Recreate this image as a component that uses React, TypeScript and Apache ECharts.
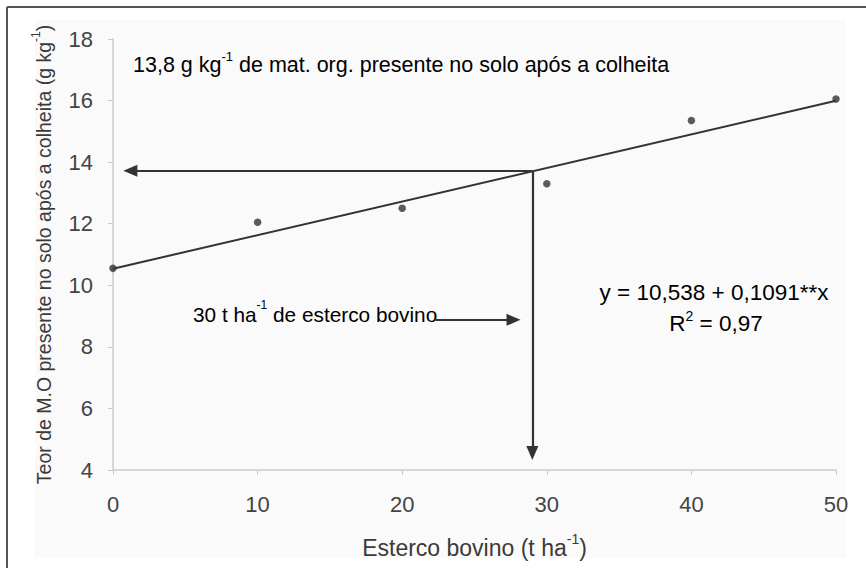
import React, { useEffect, useRef } from "react";
import * as echarts from "echarts";

const xTicks = [0, 10, 20, 30, 40, 50];
const doses = [0, 10, 20, 30, 40, 50];
const organicMatter = [10.55, 12.05, 12.5, 13.3, 15.35, 16.05];
const fitLine: [number, number][] = [[0, 10.538], [50, 15.993]];
const arrowHoriz: [number, number][] = [[29, 13.72], [1.2, 13.72]];
const arrowVert: [number, number][] = [[29, 13.72], [29, 4.55]];
const arrowLabel: [number, number][] = [[22.3, 8.88], [27.7, 8.88]];

const FONT = "Liberation Sans, Arial, sans-serif";
const TXT = "#3a3a3a";
const INK = "#333333";

const mkRich = (size: number, lh: number) => ({
  n: { fontSize: size, fontFamily: FONT, color: TXT, lineHeight: lh, verticalAlign: "bottom" as const },
  s: { fontSize: Math.round(size * 0.6), fontFamily: FONT, color: TXT, lineHeight: lh, verticalAlign: "top" as const },
});

export default function App() {
  const ref = useRef<HTMLDivElement>(null);
  useEffect(() => {
    document.body.style.margin = "0";
    const chart = echarts.init(ref.current!, null, { renderer: "svg" });
    chart.setOption({
      animation: false,
      backgroundColor: "#ffffff",
      grid: { left: 113, right: 30, top: 39, bottom: 98 },
      xAxis: {
        type: "value",
        min: 0,
        max: 50,
        interval: 10,
        name: "{n|Esterco bovino (t ha}{s|-1}{n|)}",
        nameLocation: "middle",
        nameGap: 62,
        nameTextStyle: { rich: mkRich(23, 27) },
        axisLine: { lineStyle: { color: "#c3cfcf", width: 1.5 } },
        axisTick: { show: true, length: 5, lineStyle: { color: "#c3cfcf" } },
        axisLabel: {
          margin: 23,
          fontSize: 22,
          fontFamily: FONT,
          color: "#444",
          formatter: (v: number) => (xTicks.includes(v) ? String(v) : ""),
        },
        splitLine: { show: false },
      },
      yAxis: {
        type: "value",
        min: 4,
        max: 18,
        interval: 2,
        name: "{n|Teor de M.O presente no solo após a colheita (g kg}{s|-1}{n|)}",
        nameLocation: "middle",
        nameGap: 59,
        nameRotate: 90,
        nameTextStyle: { rich: mkRich(19.5, 24) },
        axisLine: { show: true, lineStyle: { color: "#c3cfcf", width: 1.5 } },
        axisTick: { show: true, length: 5, lineStyle: { color: "#c3cfcf" } },
        axisLabel: { margin: 20, fontSize: 22, fontFamily: FONT, color: "#444" },
        splitLine: { show: false },
      },
      series: [
        {
          type: "line",
          data: fitLine,
          symbol: "none",
          lineStyle: { color: INK, width: 2 },
          z: 3,
          markLine: {
            silent: true,
            symbol: ["none", "triangle"],
            symbolSize: [12, 14],
            lineStyle: { color: INK, width: 2.2, type: "solid" },
            label: { show: false },
            data: [
              [{ coord: arrowHoriz[0] }, { coord: arrowHoriz[1] }],
              [{ coord: arrowVert[0] }, { coord: arrowVert[1] }],
              [{ coord: arrowLabel[0] }, { coord: arrowLabel[1] }],
            ],
          },
        },
        {
          type: "scatter",
          data: doses.map((d, i) => [d, organicMatter[i]]),
          symbol: "circle",
          symbolSize: 7.5,
          itemStyle: { color: INK },
          z: 4,
        },
      ],
      graphic: [
        { type: "rect", z: -10, shape: { x: 35, y: 20, width: 811, height: 538 }, style: { fill: "#fafafa" } },
        { type: "line", z: 10, shape: { x1: 7, y1: 7, x2: 866, y2: 7 }, style: { stroke: "#555", lineWidth: 2 } },
        { type: "line", z: 10, shape: { x1: 7, y1: 7, x2: 7, y2: 568 }, style: { stroke: "#555", lineWidth: 2 } },
        {
          type: "text",
          x: 133,
          y: 63,
          style: {
            text: "{n|13,8 g kg}{s|-1}{n| de mat. org. presente no solo após a colheita}",
            rich: mkRich(21.5, 26),
            verticalAlign: "middle",
          },
        },
        {
          type: "text",
          x: 193,
          y: 312,
          style: {
            text: "{n|30 t ha}{s|-1}{n| de esterco bovino}",
            rich: mkRich(20.8, 26),
            verticalAlign: "middle",
          },
        },
        {
          type: "text",
          x: 714,
          y: 291,
          style: {
            text: "{n|y = 10,538 + 0,1091**x}",
            rich: mkRich(22.5, 26),
            align: "center",
            verticalAlign: "middle",
          },
        },
        {
          type: "text",
          x: 716,
          y: 322,
          style: {
            text: "{n|R}{s|2}{n| = 0,97}",
            rich: mkRich(22.5, 26),
            align: "center",
            verticalAlign: "middle",
          },
        },
      ],
    });
    return () => chart.dispose();
  }, []);
  return <div ref={ref} style={{ width: 866, height: 568 }} />;
}
